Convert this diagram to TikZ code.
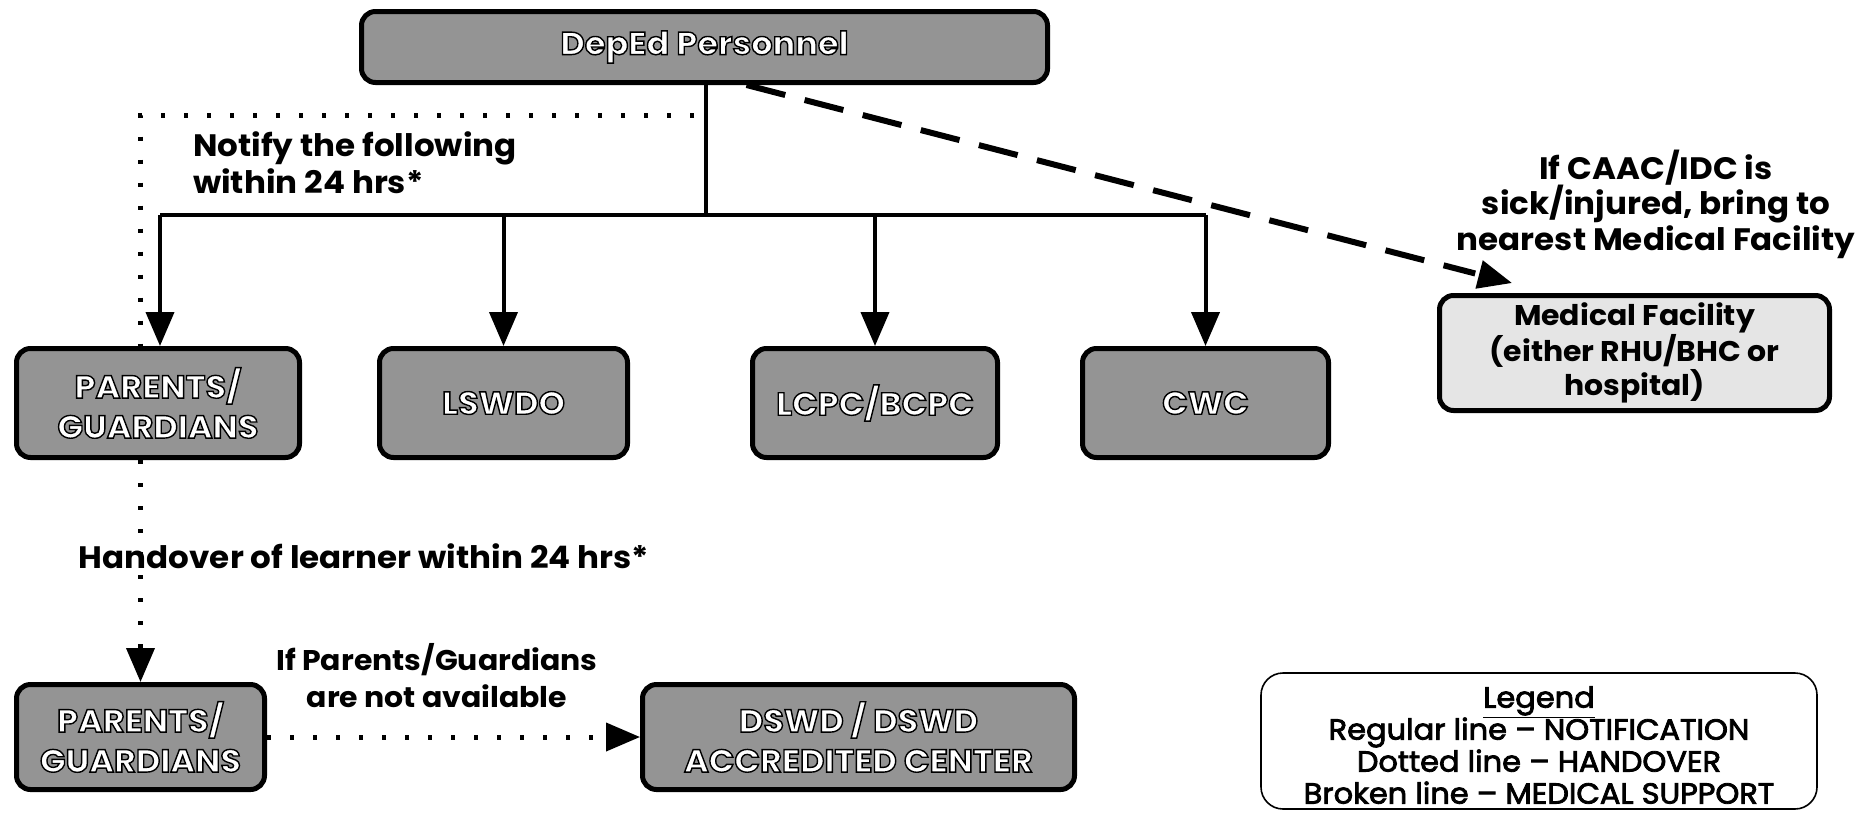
\documentclass[tikz,border=0pt]{standalone}
\usepackage{fontspec}
\setmainfont{Poppins}[FakeStretch=1.05]
\usetikzlibrary{arrows.meta,calc}
\definecolor{boxgray}{gray}{0.58}
\definecolor{medgray}{gray}{0.9}
% white letters with a black outline: fill + stroke text render mode
\newcommand\olt[1]{\textcolor{white}{\special{pdf:code 2 Tr 1.4 w 0 G}#1\special{pdf:code 0 Tr}}}
% slightly heavier black text: fill + thin stroke
\newcommand\semib[1]{\special{pdf:code 2 Tr 0.8 w 0 G}#1\special{pdf:code 0 Tr}}
\tikzset{
  gbox/.style={draw=black, line width=5pt, rounded corners=14pt, fill=boxgray, align=center, inner sep=0pt,
    font=\fontsize{32}{40}\selectfont\bfseries},
  mbox/.style={gbox, fill=medgray, font=\fontsize{28.5}{34.5}\selectfont\bfseries},
  lbox/.style={draw=black, line width=1.6pt, rounded corners=22pt, fill=white, inner sep=0pt},
  ltext/.style={align=center, inner sep=0pt, font=\fontsize{29}{32}\selectfont},
  note/.style={font=\fontsize{31}{37}\selectfont\bfseries, inner sep=0pt},
  notif/.style={line width=4pt},
  tip/.style={-{Triangle[length=34pt,width=28pt]}},
  dotl/.style={line width=5pt, dash pattern=on 4pt off 19pt},
  dashl/.style={line width=6pt, dash pattern=on 40pt off 20pt},
}
\begin{document}
\begin{tikzpicture}[x=1pt,y=-1pt]
\useasboundingbox (0,0) rectangle (1860,812);
% nodes
\node[gbox, minimum width=686pt, minimum height=71pt] (deped) at (704.5,47) {\olt{DepEd Personnel}};
\node[gbox, minimum width=283pt, minimum height=109pt] (par1) at (158,403) {\olt{PARENTS/}\\\olt{GUARDIANS}};
\node[gbox, minimum width=248pt, minimum height=109pt] (lswdo) at (503.5,403) {\olt{LSWDO}};
\node[gbox, minimum width=245pt, minimum height=109pt] (lcpc) at (875,403) {\olt{LCPC/BCPC}};
\node[gbox, minimum width=246pt, minimum height=109pt] (cwc) at (1205.5,403) {\olt{CWC}};
\node[mbox, minimum width=390pt, minimum height=115pt] (med) at (1634.5,353) {Medical Facility\\(either RHU/BHC or\\hospital)};
\node[gbox, minimum width=248pt, minimum height=105pt] (par2) at (140.5,737) {\olt{PARENTS/}\\\olt{GUARDIANS}};
\node[gbox, minimum width=432pt, minimum height=105pt] (dswd) at (858.5,737) {\olt{DSWD / DSWD}\\\olt{ACCREDITED CENTER}};
\node[lbox, minimum width=556pt, minimum height=136pt] (legend) at (1539,741) {};
\node[ltext] (legendtext) at ($(legend.center)+(0,4)$)
  {\semib{\underline{Legend}\\Regular line – NOTIFICATION\\Dotted line – HANDOVER\\Broken line – MEDICAL SUPPORT}};
% labels
\node[note, anchor=west, align=left] (notify) at (193,163) {Notify the following\\within 24 hrs*};
\node[note] (handover) at (364,556) {Handover of learner within 24 hrs*};
\node[note, align=center, font=\fontsize{31}{35.5}\selectfont\bfseries] (caac) at (1656,204) {If CAAC/IDC is\\sick/injured, bring to\\nearest Medical Facility};
\node[note, align=center, font=\fontsize{28.5}{37}\selectfont\bfseries] (ifpar) at (437,676) {If Parents/Guardians\\are not available};
% notification tree
\coordinate (j) at ($(deped.south)+(1.5,130)$);
\draw[notif] ($(deped.south)+(1.5,0)$) -- (j);
\draw[notif] ($(par1.north |- j)+(2,0)$) -- (cwc.north |- j);
\draw[notif, tip] ($(par1.north |- j)+(2,0)$) -- ($(par1.north)+(2,0)$);
\draw[notif, tip] (lswdo.north |- j) -- (lswdo.north);
\draw[notif, tip] (lcpc.north |- j) -- (lcpc.north);
\draw[notif, tip] (cwc.north |- j) -- (cwc.north);
% handover (dotted)
\coordinate (dA) at (694,115);
\coordinate (dB) at (par2.north |- dA);
\draw[dotl] (dA) -- (dB) -- (dB |- par1.north);
\draw[dotl] (dB |- par1.south) -- ($(par2.north)+(0,-34)$);
\draw[line width=4pt, tip] ($(par2.north)+(0,-20)$) -- (par2.north);
\draw[dotl] (par2.east) -- ($(dswd.west)+(-34,0)$);
\draw[line width=4pt, tip] ($(dswd.west)+(-20,0)$) -- (dswd.west);
% medical support (dashed)
\coordinate (mT) at ($(med.north west)+(75,-10)$);
\draw[dashl] ($(deped.south)+(42,0)$) -- ($(mT)!38pt!($(deped.south)+(42,0)$)$);
\draw[line width=5pt, tip] ($(mT)!20pt!($(deped.south)+(42,0)$)$) -- (mT);
\end{tikzpicture}
\end{document}
